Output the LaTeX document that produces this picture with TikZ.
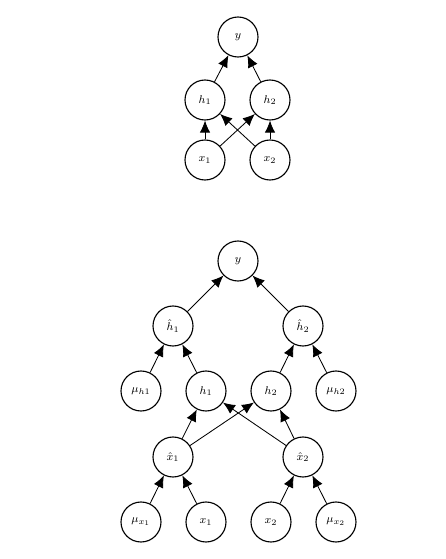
\documentclass[tikz,border=0pt]{standalone}
\usepackage{tikz}
\usetikzlibrary{arrows.meta}
\usepackage{amsmath}

\begin{document}
\begin{tikzpicture}[
    unit/.style={circle, draw=black, thick, minimum size=1cm, inner sep=0pt, font=\footnotesize},
    arrow/.style={-{Latex[length=3mm, width=2.6mm]}, semithick}
]
    \useasboundingbox (0, 0) rectangle (11.15, -13.975);

    % Small network
    \node[unit] (y) at (5.95, -0.925) {$y$};
    \node[unit] (h1) at (5.125, -2.5) {$h_1$};
    \node[unit] (h2) at (6.75, -2.5) {$h_2$};
    \node[unit] (x1) at (5.125, -4) {$x_1$};
    \node[unit] (x2) at (6.75, -4) {$x_2$};

    \draw[arrow] (h1) -- (y);
    \draw[arrow] (h2) -- (y);
    \draw[arrow] (x1) -- (h1);
    \draw[arrow] (x1) -- (h2);
    \draw[arrow] (x2) -- (h1);
    \draw[arrow] (x2) -- (h2);

    % Output
    \node[unit] (yb) at (5.95, -6.525) {$y$};

    % Hidden layer
    \node[unit] (h1hat) at (4.325, -8.15) {$\hat{h}_1$};
    \node[unit] (h2hat) at (7.575, -8.15) {$\hat{h}_2$};
    \node[unit] (muh1) at (3.525, -9.775) {$\mu_{h1}$};
    \node[unit] (h1b) at (5.15, -9.775) {$h_1$};
    \node[unit] (h2b) at (6.775, -9.775) {$h_2$};
    \node[unit] (muh2) at (8.4, -9.775) {$\mu_{h2}$};

    % Input layer
    \node[unit] (x1hat) at (4.325, -11.425) {$\hat{x}_1$};
    \node[unit] (x2hat) at (7.575, -11.425) {$\hat{x}_2$};
    \node[unit] (mux1) at (3.525, -13.05) {$\mu_{x_1}$};
    \node[unit] (x1b) at (5.15, -13.05) {$x_1$};
    \node[unit] (x2b) at (6.775, -13.05) {$x_2$};
    \node[unit] (mux2) at (8.4, -13.05) {$\mu_{x_2}$};

    % Arrows
    \draw[arrow] (h1hat) -- (yb);
    \draw[arrow] (h2hat) -- (yb);
    \draw[arrow] (muh1) -- (h1hat);
    \draw[arrow] (h1b) -- (h1hat);
    \draw[arrow] (h2b) -- (h2hat);
    \draw[arrow] (muh2) -- (h2hat);
    \draw[arrow] (x1hat) -- (h1b);
    \draw[arrow] (x1hat) -- (h2b);
    \draw[arrow] (x2hat) -- (h1b);
    \draw[arrow] (x2hat) -- (h2b);
    \draw[arrow] (mux1) -- (x1hat);
    \draw[arrow] (x1b) -- (x1hat);
    \draw[arrow] (x2b) -- (x2hat);
    \draw[arrow] (mux2) -- (x2hat);
\end{tikzpicture}
\end{document}
